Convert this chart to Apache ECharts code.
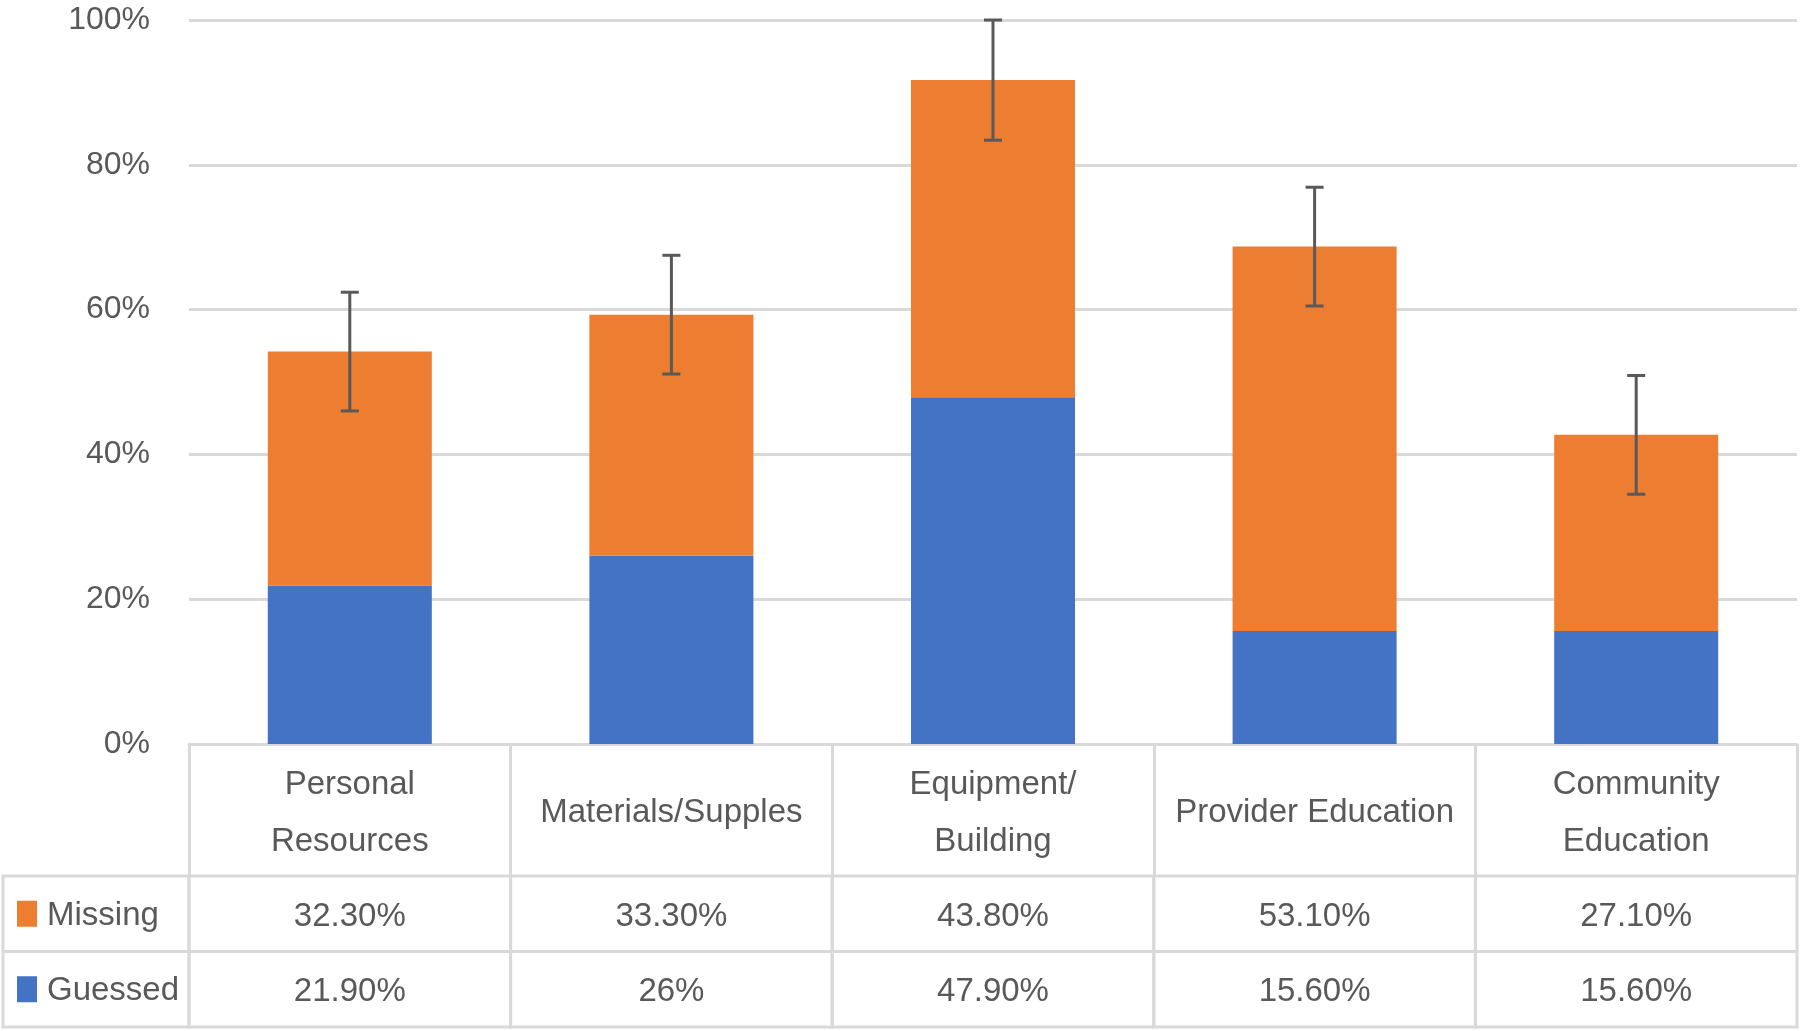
<!DOCTYPE html>
<html>
<head>
<meta charset="utf-8">
<script src="https://cdn.jsdelivr.net/npm/echarts@6/dist/echarts.min.js"></script>
<style>
html,body{margin:0;padding:0;background:#fff;}
#chart{width:1800px;height:1031px;}
</style>
</head>
<body>
<div id="chart"></div>
<script>
// ---- data ----
const categories = ['Personal\nResources', 'Materials/Supples', 'Equipment/\nBuilding', 'Provider Education', 'Community\nEducation'];
const seriesNames = ['Missing', 'Guessed'];
const missing = [32.3, 33.3, 43.8, 53.1, 27.1];
const guessed = [21.9, 26, 47.9, 15.6, 15.6];
const errors = [8.2, 8.2, 8.3, 8.2, 8.2];
const yTicks = [0, 20, 40, 60, 80, 100];

// ---- styles ----
const FONT = "'Liberation Sans', Arial, sans-serif";
const TXT = '#595959';
const LINE = '#d9d9d9';
const ORANGE = '#ED7D31';
const BLUE = '#4472C4';
const colors = {Missing: ORANGE, Guessed: BLUE};
const values = {Missing: missing, Guessed: guessed};

function fmt(v) { return Number.isInteger(v) ? v + '%' : v.toFixed(2) + '%'; }

const totals = guessed.map((g, i) => +(g + missing[i]).toFixed(2));
const errData = totals.map((t, i) => [i, t - errors[i], t + errors[i]]);

const cellData = [];
seriesNames.forEach(n => values[n].forEach((v, i) => cellData.push([i, n, fmt(v)])));
const legendData = seriesNames.map(n => [0, n]);

const chart = echarts.init(document.getElementById('chart'));
chart.setOption({
  animation: false,
  backgroundColor: '#fff',
  textStyle: {fontFamily: FONT},
  grid: [
    {left: 189, right: 3, top: 20, bottom: 287, containLabel: false},
    {left: 189, right: 3, top: 876, bottom: 4, containLabel: false}
  ],
  xAxis: [
    {
      type: 'category', gridIndex: 0, data: categories,
      axisLine: {show: true, lineStyle: {color: LINE, width: 3}},
      axisTick: {show: true, length: 131, alignWithLabel: false, lineStyle: {color: LINE, width: 3}},
      axisLabel: {color: TXT, fontSize: 33, fontFamily: FONT, lineHeight: 57, margin: 69, verticalAlign: 'middle', align: 'center', interval: 0}
    },
    {
      type: 'category', gridIndex: 1, data: categories,
      axisLine: {show: false}, axisTick: {show: false}, axisLabel: {show: false}
    }
  ],
  yAxis: [
    {
      type: 'value', gridIndex: 0, min: yTicks[0], max: yTicks[yTicks.length - 1], interval: 20,
      axisLine: {show: false}, axisTick: {show: false},
      axisLabel: {color: TXT, fontSize: 32, fontFamily: FONT, margin: 39, formatter: '{value}%'},
      splitLine: {lineStyle: {color: LINE, width: 3}}
    },
    {
      type: 'category', gridIndex: 1, data: seriesNames, inverse: true,
      axisLine: {show: false}, axisTick: {show: false}, axisLabel: {show: false}
    }
  ],
  series: [
    {
      name: 'Guessed', type: 'bar', stack: 'total', xAxisIndex: 0, yAxisIndex: 0,
      data: guessed, barWidth: '51%', itemStyle: {color: BLUE}
    },
    {
      name: 'Missing', type: 'bar', stack: 'total', xAxisIndex: 0, yAxisIndex: 0,
      data: missing, barWidth: '51%', itemStyle: {color: ORANGE}
    },
    {
      type: 'custom', xAxisIndex: 0, yAxisIndex: 0, z: 10,
      data: errData,
      renderItem: function (params, api) {
        const x = api.value(0);
        const lo = api.coord([x, api.value(1)]);
        const hi = api.coord([x, api.value(2)]);
        const hw = 9;
        const st = {stroke: '#595959', lineWidth: 3};
        return {type: 'group', children: [
          {type: 'line', shape: {x1: lo[0], y1: lo[1], x2: hi[0], y2: hi[1]}, style: st},
          {type: 'line', shape: {x1: lo[0] - hw, y1: lo[1], x2: lo[0] + hw, y2: lo[1]}, style: st},
          {type: 'line', shape: {x1: hi[0] - hw, y1: hi[1], x2: hi[0] + hw, y2: hi[1]}, style: st}
        ]};
      }
    },
    {
      type: 'custom', xAxisIndex: 1, yAxisIndex: 1,
      data: cellData,
      encode: {x: 0, y: 1},
      renderItem: function (params, api) {
        const c = api.coord([api.value(0), api.value(1)]);
        const s = api.size([1, 1]);
        return {type: 'group', children: [
          {type: 'rect', shape: {x: c[0] - s[0] / 2, y: c[1] - s[1] / 2, width: s[0], height: s[1]},
           style: {fill: 'none', stroke: LINE, lineWidth: 3}},
          {type: 'text', x: c[0], y: c[1] + 3,
           style: {text: cellData[params.dataIndex][2], fill: TXT, font: '33px ' + FONT, align: 'center', verticalAlign: 'middle'}}
        ]};
      }
    },
    {
      type: 'custom', xAxisIndex: 1, yAxisIndex: 1,
      data: legendData,
      encode: {x: 0, y: 1},
      renderItem: function (params, api) {
        const name = legendData[params.dataIndex][1];
        const c = api.coord([api.value(0), name]);
        const s = api.size([1, 1]);
        const left = c[0] - s[0] / 2;
        const top = c[1] - s[1] / 2;
        return {type: 'group', children: [
          {type: 'rect', shape: {x: 3, y: top, width: left - 3, height: s[1]},
           style: {fill: 'none', stroke: LINE, lineWidth: 3}},
          {type: 'rect', shape: {x: 17, y: c[1] - 13, width: 20, height: 26},
           style: {fill: colors[name]}},
          {type: 'text', x: 47, y: c[1] + 2,
           style: {text: name, fill: TXT, font: '33px ' + FONT, align: 'left', verticalAlign: 'middle'}}
        ]};
      }
    }
  ]
});
</script>
</body>
</html>
